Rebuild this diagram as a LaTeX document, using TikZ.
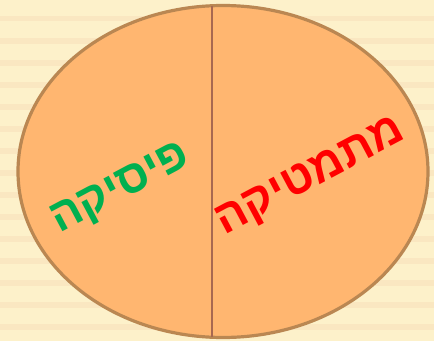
\documentclass[tikz,border=0pt]{standalone}
\usepackage{fontspec}
\usepackage{tikz}
\TeXXeTstate=1
\newfontfamily\hebfont[Script=Hebrew]{Liberation Sans}
\definecolor{paper}{RGB}{253,241,202}
\definecolor{paperline}{RGB}{250,231,193}
\definecolor{setfill}{RGB}{255,182,112}
\definecolor{setdraw}{RGB}{186,135,82}
\definecolor{divider}{RGB}{168,104,80}
\definecolor{fizgreen}{RGB}{0,176,80}

\begin{document}
\begin{tikzpicture}[x=1pt, y=1pt,
            subject/.style={font=\hebfont\bfseries\fontsize{46}{46}\selectfont, inner sep=0pt, rotate=28}]

            % background
            \fill[paper] (0,0) rectangle (434,341);
            \useasboundingbox (0,0) rectangle (434,341);
            \foreach \k in {0,...,14}
                \fill[paperline] (0,341-16-22*\k) rectangle (434,341-21.5-22*\k);

            % the set
            \draw[setdraw, fill=setfill, line width=3.2pt] (223,169.5) ellipse (205 and 166);
            \coordinate (top) at (212,335.3);
            \coordinate (bottom) at (212,3.7);
            \draw[divider, line width=2.5pt] (top) -- (bottom);

            \node[subject, text=fizgreen] (physics) at (121,151) {\beginR פיסיקה\endR};
            \node[subject, text=red] (math) at (311,163) {\beginR מתמטיקה\endR};
        \end{tikzpicture}
\end{document}
